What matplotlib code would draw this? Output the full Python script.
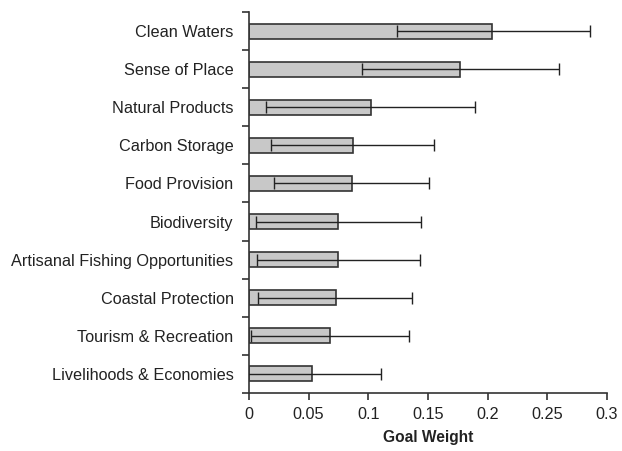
import numpy as np
import matplotlib
matplotlib.use("Agg")
from matplotlib import pyplot as plt

goals = ["Clean Waters", "Sense of Place", "Natural Products", "Carbon Storage",
         "Food Provision", "Biodiversity", "Artisanal Fishing Opportunities",
         "Coastal Protection", "Tourism & Recreation", "Livelihoods & Economies"]
weight = [0.204, 0.177, 0.102, 0.087, 0.086, 0.075, 0.075, 0.073, 0.068, 0.053]
lower = [0.124, 0.095, 0.014, 0.019, 0.021, 0.006, 0.007, 0.008, 0.002, -0.005]
upper = [0.286, 0.260, 0.189, 0.155, 0.151, 0.144, 0.143, 0.137, 0.134, 0.111]
xticks = [0, 0.05, 0.1, 0.15, 0.2, 0.25, 0.3]
xticklabels = ["0", "0.05", "0.1", "0.15", "0.2", "0.25", "0.3"]

plt.rcParams['font.family'] = ['Liberation Sans', 'DejaVu Sans']
dark = "#333333"
fs = 11.7

fig = plt.figure(figsize=(6.22, 4.51), dpi=100)
ax = fig.add_axes([0.400, 0.129, 0.576, 0.844])

y = np.arange(len(goals))[::-1]
w = np.array(weight)
xerr = [w - np.array(lower), np.array(upper) - w]
ax.barh(y, w, height=0.4, color="#c8c8c8", edgecolor=dark, linewidth=1.2, zorder=2)
ax.errorbar(w, y, xerr=xerr, fmt="none", ecolor="#222222", elinewidth=1.0,
            capsize=4, capthick=1.0, zorder=3)

ax.set_xlim(0, 0.3)
ax.set_ylim(-0.5, len(goals) - 0.5)
ax.set_xticks(xticks)
ax.set_xticklabels(xticklabels, fontsize=fs, color="#222222")
ax.set_yticks(y)
ax.set_yticklabels(goals, fontsize=fs, color="#222222")
ax.tick_params(axis="y", which="major", length=0, pad=11)
ax.set_yticks(np.arange(-0.5, len(goals), 1.0), minor=True)
ax.tick_params(axis="y", which="minor", length=5, width=1.2, color=dark)
ax.tick_params(axis="x", length=5, width=1.2, color=dark, pad=5)
for s in ["top", "right"]:
    ax.spines[s].set_visible(False)
for s in ["left", "bottom"]:
    ax.spines[s].set_color(dark)
    ax.spines[s].set_linewidth(1.2)
ax.set_xlabel("Goal Weight", fontsize=fs - 0.5, fontweight="bold", labelpad=6,
              color="#222222")

fig.savefig("out.png", dpi=100)
